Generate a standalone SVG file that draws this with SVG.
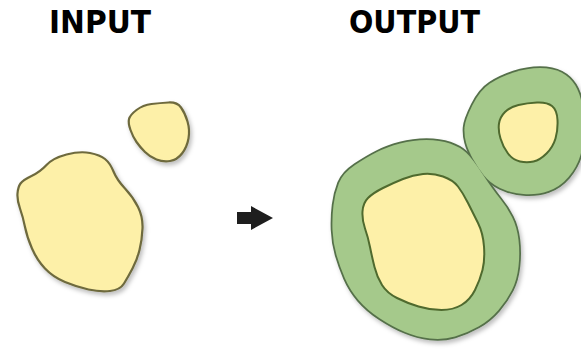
<svg xmlns="http://www.w3.org/2000/svg" width="581" height="349" viewBox="0 0 581 349">
<defs>
<filter id="sh" x="-20%" y="-20%" width="140%" height="140%">
<feDropShadow dx="2" dy="3" stdDeviation="2" flood-color="#000" flood-opacity="0.25"/>
</filter>
<style>
.title{font-family:"DejaVu Sans","Verdana",sans-serif;font-weight:bold;font-size:32px;fill:#000;text-anchor:middle}
.yel{fill:#fdf0a8;stroke:#6e6a3e;stroke-width:2.2;stroke-linejoin:round}
.yin{fill:#fdf0a8;stroke:#4f6a2e;stroke-width:2;stroke-linejoin:round}
.gstroke{fill:none;stroke:#55704a;stroke-width:3.5;stroke-linejoin:round}
.gfill{fill:#a5c98b;stroke:none}
</style>
</defs>
<rect width="581" height="349" fill="#fff"/>
<text class="title" x="100" y="33" textLength="102" lengthAdjust="spacingAndGlyphs">INPUT</text>
<text class="title" x="414.5" y="33" textLength="131" lengthAdjust="spacingAndGlyphs">OUTPUT</text>

<g id="input-large" filter="url(#sh)">
<path class="yel" d="M66.5,154.5 Q80,151 90,153 Q100,155 105,159 Q110,163 113.5,171.5 Q117,180 125,188.5 Q133,197 138,207 Q143,217 142.5,228.5 Q142,240 139.5,250 Q137,260 132.5,268.5 Q128,277 124,283.5 Q120,290 110,291 Q100,292 88.5,289.5 Q77,287 65,282 Q53,277 45,268.5 Q37,260 32,248.5 Q27,237 25,227 Q23,217 20,208.5 Q17,200 17.5,193.5 Q18,187 20.5,183.5 Q23,180 31.5,176 Q40,172 46.5,165 Q53,158 66.5,154.5Z"/>
</g>
<g id="input-small" filter="url(#sh)">
<path class="yel" d="M136.5,110 Q143,105 151.5,104 Q160,103 168.5,102.5 Q177,102 181,107.5 Q185,113 187.5,121.5 Q190,130 188.5,138.5 Q187,147 182,153.5 Q177,160 170,161 Q163,162 156.5,159.5 Q150,157 145,152 Q140,147 136.5,142 Q133,137 130.5,130 Q128,123 129,119 Q130,115 136.5,110Z"/>
</g>

<g id="connectors">
<path d="M237,212 L251,212 L251,206 L273,218 L251,230 L251,224 L237,224 Z" fill="#1e1e1e"/>
</g>

<g id="output-buffer" filter="url(#sh)">
<path class="gstroke" d="M339,183 Q343,173 355,165 Q367,157 377,152 Q387,147 400,143.5 Q413,140 426.5,140 Q440,140 450,143.5 Q460,147 466,152.5 Q472,158 482.5,174 Q493,190 500,198.5 Q507,207 512,217 Q517,227 518.5,240 Q520,253 518.5,266.5 Q517,280 512,290 Q507,300 498.5,310 Q490,320 478.5,326.5 Q467,333 455,336.5 Q443,340 430,338.5 Q417,337 405,332 Q393,327 380,318.5 Q367,310 358.5,300 Q350,290 345,278.5 Q340,267 336.5,255 Q333,243 332.5,230 Q332,217 333.5,205 Q335,193 339,183Z"/>
<path class="gstroke" d="M472.5,105 Q480,90 490,83.5 Q500,77 513.5,72.5 Q527,68 540,68 Q553,68 561.5,72.5 Q570,77 575,85 Q580,93 582,105 Q584,117 584,130 Q584,143 580.5,155 Q577,167 568.5,177 Q560,187 548.5,191 Q537,195 523.5,194 Q510,193 500,188 Q490,183 484,175.5 Q478,168 473,159 Q468,150 466,142.5 Q464,135 464.5,127.5 Q465,120 472.5,105Z"/>
<path class="gfill" d="M339,183 Q343,173 355,165 Q367,157 377,152 Q387,147 400,143.5 Q413,140 426.5,140 Q440,140 450,143.5 Q460,147 466,152.5 Q472,158 482.5,174 Q493,190 500,198.5 Q507,207 512,217 Q517,227 518.5,240 Q520,253 518.5,266.5 Q517,280 512,290 Q507,300 498.5,310 Q490,320 478.5,326.5 Q467,333 455,336.5 Q443,340 430,338.5 Q417,337 405,332 Q393,327 380,318.5 Q367,310 358.5,300 Q350,290 345,278.5 Q340,267 336.5,255 Q333,243 332.5,230 Q332,217 333.5,205 Q335,193 339,183Z"/>
<path class="gfill" d="M472.5,105 Q480,90 490,83.5 Q500,77 513.5,72.5 Q527,68 540,68 Q553,68 561.5,72.5 Q570,77 575,85 Q580,93 582,105 Q584,117 584,130 Q584,143 580.5,155 Q577,167 568.5,177 Q560,187 548.5,191 Q537,195 523.5,194 Q510,193 500,188 Q490,183 484,175.5 Q478,168 473,159 Q468,150 466,142.5 Q464,135 464.5,127.5 Q465,120 472.5,105Z"/>
</g>
<g id="output-large">
<path class="yin" d="M368,198 Q373,193 383,188 Q393,183 403,179 Q413,175 423,174 Q433,173 443,176.5 Q453,180 458,186.5 Q463,193 468,203 Q473,213 478,223 Q483,233 484,246.5 Q485,260 482.5,270 Q480,280 475,290 Q470,300 461.5,305 Q453,310 441.5,310 Q430,310 418.5,306.5 Q407,303 397,298 Q387,293 382,285 Q377,277 374.5,267 Q372,257 370,247 Q368,237 365,228.5 Q362,220 362.5,211.5 Q363,203 368,198Z"/>
</g>
<g id="output-small">
<path class="yin" d="M505,112 Q510,107 518.5,105 Q527,103 537,102.5 Q547,102 552,106 Q557,110 557.5,120 Q558,130 555.5,138.5 Q553,147 546.5,153.5 Q540,160 533.5,161.5 Q527,163 520,161.5 Q513,160 508,153.5 Q503,147 500.5,138.5 Q498,130 499,123.5 Q500,117 505,112Z"/>
</g>
</svg>
